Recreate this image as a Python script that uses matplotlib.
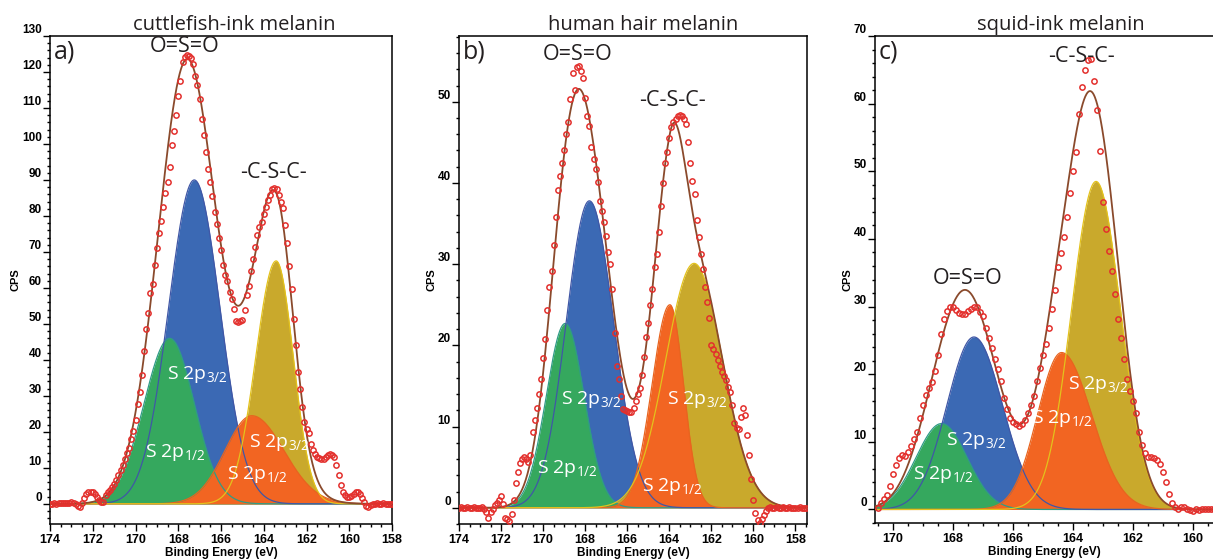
import numpy as np
import matplotlib
matplotlib.use("Agg")
import matplotlib.pyplot as plt
from matplotlib.ticker import MultipleLocator

plt.rcParams['font.family'] = ['Open Sans', 'DejaVu Sans']
plt.rcParams['mathtext.fontset'] = 'custom'
plt.rcParams['mathtext.rm'] = 'Open Sans'
plt.rcParams['mathtext.it'] = 'Open Sans:italic'
plt.rcParams['mathtext.bf'] = 'Open Sans:bold'

# ---- measured spectra (CPS), 0.1 eV steps, high -> low binding energy ----
# cuttlefish-ink melanin, 174.0 ... 158.0 eV
a_start = 174.0
a_counts = [
    0.0, 0.0, 0.1, 0.0, 0.1, 0.1, 0.2, 0.2, 0.3, 0.3,            # 174.0
    0.4, 0.3, 0.0, -0.6, -1.0, 0.2, 1.5, 2.6, 3.2, 3.4,          # 173.0
    3.3, 2.8, 2.0, 1.2, 0.6, 0.5, 2.5, 3.2, 3.8, 4.7,            # 172.0
    5.6, 6.7, 7.9, 9.3, 10.9, 12.6, 14.0, 15.6, 18.0, 20.3,      # 171.0
    23.4, 27.8, 31.2, 35.8, 42.5, 48.7, 53.0, 58.5, 61.0, 66.5,  # 170.0
    71.0, 75.2, 78.6, 82.5, 86.5, 89.5, 93.5, 99.8, 103.5, 108.0,  # 169.0
    113.2, 117.5, 122.8, 124.2, 124.6, 124.5, 124.0, 122.3, 119.0, 116.4,  # 168.0
    112.5, 107.0, 102.5, 97.8, 93.0, 89.3, 85.5, 81.0, 77.8, 74.0,  # 167.0
    70.5, 66.3, 63.7, 62.0, 59.0, 57.0, 54.2, 50.8, 50.6, 50.7,  # 166.0
    51.2, 54.0, 57.9, 60.5, 64.6, 68.0, 71.3, 74.8, 76.8, 78.4,  # 165.0
    80.5, 82.6, 84.5, 85.9, 87.5, 87.9, 87.6, 85.8, 84.0, 82.2,  # 164.0
    77.5, 72.5, 66.2, 59.8, 51.5, 44.0, 36.5, 31.9, 27.0, 22.8,  # 163.0
    20.8, 19.6, 16.6, 14.9, 13.8, 13.1, 12.7, 12.4, 12.6, 13.0,  # 162.0
    13.5, 13.8, 13.7, 13.1, 10.8, 7.9, 5.2, 3.4, 2.4, 1.8,       # 161.0
    1.9, 2.2, 2.8, 3.4, 3.3, 2.6, 1.6, 0.4, -0.5, -1.0,          # 160.0
    -0.2, 0.0, 0.0, 0.1, 0.0, 0.0, 0.1, 0.0, 0.0, 0.0,           # 159.0
    0.0,                                                         # 158.0
]

# human hair melanin, 174.0 ... 157.5 eV
b_start = 174.0
b_counts = [
    0.0, 0.1, 0.0, 0.0, 0.1, 0.0, 0.0, 0.1, 0.0, 0.0,            # 174.0
    0.0, 0.1, -0.1, -0.5, -1.2, -0.5, -0.2, 0.4, 0.6, 1.0,       # 173.0
    1.5, 0.5, -1.3, -1.4, -1.6, -0.8, 1.0, 3.0, 4.4, 5.5,        # 172.0
    6.0, 6.3, 6.0, 5.6, 6.5, 9.3, 10.8, 12.3, 14.0, 15.8,        # 171.0
    18.5, 20.8, 24.4, 27.2, 29.2, 32.3, 35.8, 39.1, 40.9, 42.4,  # 170.0
    44.0, 46.0, 47.5, 50.3, 53.5, 51.5, 54.3, 54.4, 53.8, 52.9,  # 169.0
    50.5, 48.2, 47.0, 44.4, 43.0, 41.7, 40.1, 37.8, 36.5, 35.2,  # 168.0
    33.5, 31.5, 30.0, 27.0, 21.5, 17.5, 15.8, 13.8, 12.2, 12.0,  # 167.0
    11.9, 11.8, 11.8, 12.3, 13.2, 14.0, 14.8, 16.4, 18.6, 21.0,  # 166.0
    22.8, 25.0, 27.0, 29.7, 31.2, 34.0, 37.2, 40.0, 42.4, 43.8,  # 165.0
    45.5, 46.9, 47.5, 47.9, 48.2, 48.4, 48.2, 47.9, 47.3, 45.1,  # 164.0
    42.5, 40.2, 38.6, 35.5, 33.4, 31.3, 29.4, 27.2, 25.4, 23.4,  # 163.0
    20.1, 19.5, 18.9, 18.2, 17.4, 16.7, 16.2, 15.7, 14.9, 14.3,  # 162.0
    12.6, 10.5, 9.8, 9.7, 11.2, 12.3, 11.4, 9.0, 6.5, 3.5,       # 161.0
    1.0, -0.6, -1.5, -1.9, -1.4, -0.9, -0.4, 0.0, 0.1, 0.0,      # 160.0
    0.0, 0.1, 0.0, 0.0, 0.1, 0.0, 0.0, 0.1, 0.0, 0.0,            # 159.0
    0.0, 0.0, 0.1, 0.0, 0.0, 0.0,                                # 158.0
]

# squid-ink melanin, 170.5 ... 159.3 eV
c_start = 170.5
c_counts = [
    0.2, 1.0, 1.6, 2.2, 3.5, 5.3, 6.6, 7.6, 8.1, 7.9,            # 170.5
    8.5, 9.4, 10.4, 11.5, 13.5, 15.5, 16.9, 17.9, 18.9, 20.4,    # 169.5
    22.9, 26.0, 28.1, 29.4, 30.0, 29.9, 29.5, 29.1, 28.9, 28.9,  # 168.5
    29.4, 29.7, 30.0, 30.0, 29.2, 28.6, 26.8, 25.3, 23.8, 22.3,  # 167.5
    20.8, 19.0, 16.5, 14.9, 13.5, 12.9, 12.7, 12.4, 12.6, 13.3,  # 166.5
    14.3, 15.5, 16.8, 19.0, 20.9, 22.9, 24.5, 26.9, 29.6, 32.5,  # 165.5
    35.8, 37.9, 40.3, 43.3, 46.8, 50.0, 52.8, 58.5, 62.5, 65.0,  # 164.5
    66.4, 66.6, 63.3, 59.0, 53.0, 45.5, 41.5, 38.2, 35.2, 31.8,  # 163.5
    28.2, 25.4, 22.3, 19.3, 17.5, 16.0, 14.2, 11.5, 9.6, 8.3,    # 162.5
    7.8, 7.7, 7.6, 7.3, 6.7, 5.6, 4.0, 2.3, 1.0, 0.4,            # 161.5
    0.0, 0.3, 0.4, 0.1, -0.1, -0.2, 0.0, -0.1, 0.0, 0.0,         # 160.5
    0.0, 0.0, 0.0,                                               # 159.5
]

# ---- fitted S 2p components: order = green, blue, orange, gold ----
# centre (eV), height (CPS), width on high-BE side, width on low-BE side
a_center = [168.40, 167.25, 164.56, 163.42]
a_height = [46.0, 90.0, 24.5, 67.5]
a_sig_hi = [1.20, 1.20, 1.25, 0.95]
a_sig_lo = [1.15, 1.20, 1.50, 0.80]

b_center = [168.95, 167.80, 163.97, 162.82]
b_height = [22.7, 37.8, 25.0, 30.1]
b_sig_hi = [0.90, 1.10, 0.85, 1.35]
b_sig_lo = [0.90, 1.15, 0.65, 1.35]

c_center = [168.38, 167.30, 164.38, 163.23]
c_height = [12.7, 25.5, 23.2, 48.5]
c_sig_hi = [0.85, 0.90, 0.80, 0.82]
c_sig_lo = [0.85, 0.95, 1.00, 0.82]

fill_colors = ['#35a85e', '#3b69b4', '#f26522', '#c9a92c']
line_colors = ['#2f9c86', '#4057a6', '#e8641f', '#e3c21c']
sub_labels = ['1/2', '3/2', '1/2', '3/2']

RED = '#e3302d'
ENV = '#8a4a2c'


def component(x, cen, h, s_hi, s_lo):
    s = np.where(x >= cen, s_hi, s_lo)
    return h * np.exp(-0.5 * ((x - cen) / s) ** 2)


def draw_panel(ax, start, counts, center, height, sig_hi, sig_lo,
               xlim, ylim, letter, title_x, title, chem, lab_pos, fig):
    energy = np.round(start - 0.1 * np.arange(len(counts)), 2)
    x = np.linspace(xlim[0], xlim[1], 800)
    comps = [component(x, center[i], height[i], sig_hi[i], sig_lo[i])
             for i in range(4)]

    # S 2p3/2 fills at the back, S 2p1/2 fills in front
    for i in [1, 3, 0, 2]:
        ax.fill_between(x, 0, comps[i], color=fill_colors[i], lw=0,
                        zorder=2 if i in (0, 2) else 1)
    for i in range(4):
        ax.plot(x, comps[i], color=line_colors[i], lw=0.9, zorder=3)
    ax.plot(x, np.sum(comps, axis=0), color=ENV, lw=1.3, zorder=4)
    ax.plot(energy, counts, 'o', mfc='none', mec=RED, ms=3.8, mew=1.1, zorder=5)

    for i in range(4):
        ax.text(lab_pos[i][0], lab_pos[i][1], r'S 2p$_{\mathrm{%s}}$' % sub_labels[i],
                color='white', fontsize=14, ha='center', va='center', zorder=6)
    for txt, (ex, ey) in chem:
        ax.text(ex, ey, txt, fontsize=15.5, ha='center', va='center',
                color='#231f20', zorder=6)

    ax.text(0.012, 0.992, letter, transform=ax.transAxes, fontsize=18,
            ha='left', va='top', color='#231f20')
    fig.text(title_x / 1213, 1 - 30 / 560, title, fontsize=14.5, ha='center',
             va='baseline', color='#231f20')

    ax.set_xlim(*xlim)
    ax.set_ylim(*ylim)
    ax.xaxis.set_major_locator(MultipleLocator(2))
    ax.xaxis.set_minor_locator(MultipleLocator(0.5))
    ax.yaxis.set_major_locator(MultipleLocator(10))
    ax.yaxis.set_minor_locator(MultipleLocator(2))
    ax.tick_params(which='both', direction='out', top=False, right=False, width=1.0)
    ax.tick_params(which='major', length=5)
    ax.tick_params(which='minor', length=2.5)
    ax.tick_params(axis='x', labelsize=9, pad=2)
    ax.tick_params(axis='y', labelsize=8.5, pad=1)
    for lbl in ax.get_xticklabels() + ax.get_yticklabels():
        lbl.set_fontfamily('Liberation Sans')
        lbl.set_fontweight('bold')
    for lbl in ax.get_yticklabels():
        lbl.set_verticalalignment('bottom')
    for sp in ax.spines.values():
        sp.set_linewidth(1.1)
    ax.set_xlabel('Binding Energy (eV)', fontsize=8.5, fontweight='bold',
                  family='Liberation Sans', labelpad=1)
    ax.set_ylabel('CPS', fontsize=8, fontweight='bold', family='Liberation Sans',
                  labelpad=1)


fig = plt.figure(figsize=(12.13, 5.6), dpi=100)
ax_a = fig.add_axes([50 / 1213, 36 / 560, 342 / 1213, 488 / 560])
ax_b = fig.add_axes([459 / 1213, 36 / 560, 348 / 1213, 488 / 560])
ax_c = fig.add_axes([875 / 1213, 37 / 560, 338 / 1213, 487 / 560])

draw_panel(ax_a, a_start, a_counts, a_center, a_height, a_sig_hi, a_sig_lo,
           (174, 158), (-5.6, 130), 'a)', 234, 'cuttlefish-ink melanin',
           [('O=S=O', (167.68, 127.0)), ('-C-S-C-', (163.54, 92.0))],
           [(168.15, 14.2), (167.12, 35.9), (164.3, 8.1), (163.29, 17.0)], fig)
draw_panel(ax_b, b_start, b_counts, b_center, b_height, b_sig_hi, b_sig_lo,
           (174, 157.45), (-2.0, 58.1), 'b)', 643, 'human hair melanin',
           [('O=S=O', (168.37, 55.8)), ('-C-S-C-', (163.85, 50.2))],
           [(168.84, 4.8), (167.69, 13.3), (163.84, 2.6), (162.67, 13.3)], fig)
draw_panel(ax_c, c_start, c_counts, c_center, c_height, c_sig_hi, c_sig_lo,
           (170.6, 159.33), (-2.0, 70), 'c)', 1061, 'squid-ink melanin',
           [('O=S=O', (167.52, 34.1)), ('-C-S-C-', (163.71, 67.0))],
           [(168.32, 5.2), (167.22, 10.2), (164.35, 13.5), (163.14, 18.5)], fig)
ax_c.spines['right'].set_visible(False)

fig.savefig('out.png', dpi=100)
